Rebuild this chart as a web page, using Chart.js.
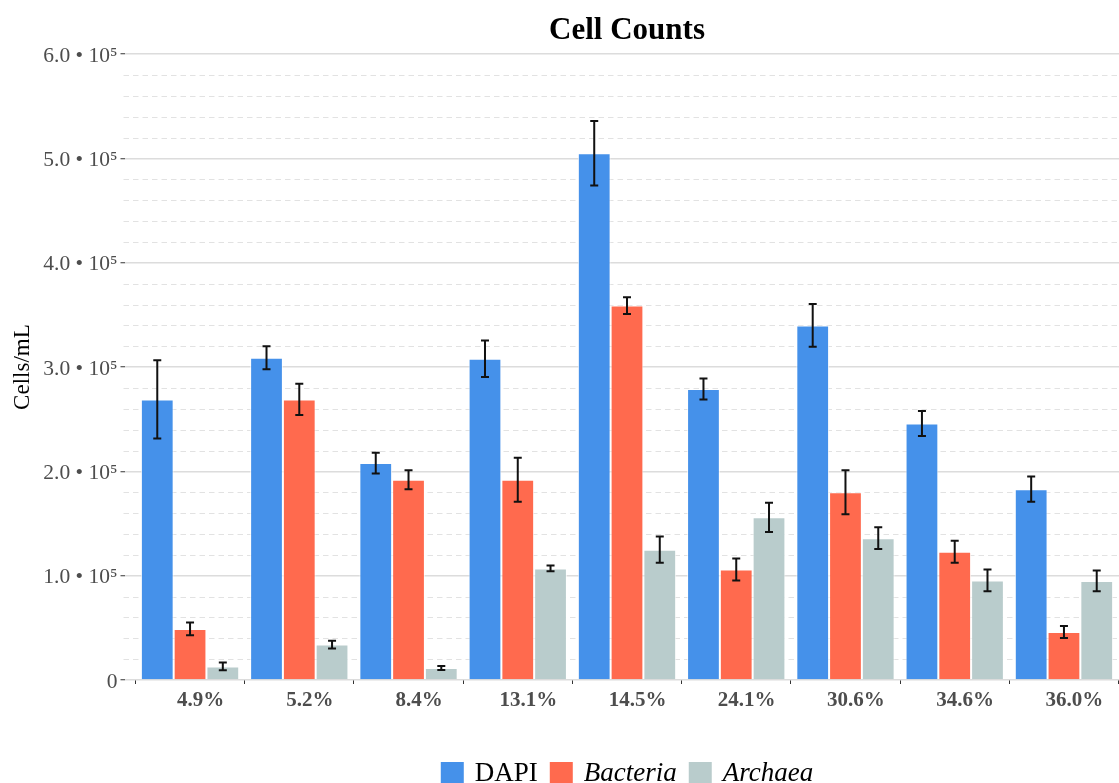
<!DOCTYPE html>
<html>
<head>
<meta charset="utf-8">
<script src="https://cdn.jsdelivr.net/npm/chart.js@4/dist/chart.umd.min.js"></script>
<style>
  html, body { margin: 0; padding: 0; background: #ffffff; overflow: hidden; }
  #wrap { width: 1119px; height: 783px; overflow: hidden; position: relative; }
  canvas { display: block; }
</style>
</head>
<body>
<div id="wrap"><canvas id="chart" width="1254" height="800"></canvas></div>
<script>
// Salinity of each sample
const salinities = ['4.9%', '5.2%', '8.4%', '13.1%', '14.5%', '24.1%', '30.6%', '34.6%', '36.0%'];

// Mean cell counts (cells/mL) and standard errors
const dapiCounts     = [269000, 309000, 208000, 308000, 505000, 279000, 340000, 246000, 183000];
const dapiErrors     = [ 37500,  11000,  10000,  17500,  31000,  10000,  20500,  12000,  12000];
const bacteriaCounts = [ 49000, 269000, 192000, 192000, 359000, 106000, 180000, 123000,  46000];
const bacteriaErrors = [  6200,  15000,   9000,  21000,   8000,  10500,  21000,  10500,   5800];
const archaeaCounts  = [ 13000,  34000,  11500, 107000, 125000, 156000, 136000,  95500,  95000];
const archaeaErrors  = [  3700,   3700,   2000,   2700,  12500,  14000,  10500,  10400,  10000];

// Y axis ticks
const yTickValues = [0, 100000, 200000, 300000, 400000, 500000, 600000];
const yMinorStep = 20000;

const SERIF = "'Liberation Serif', 'Times New Roman', Times, serif";
const COLORS = { dapi: '#4591EA', bacteria: '#FF6A4E', archaea: '#B9CCCC' };

function toPoints(values) {
  return values.map((v, i) => ({ x: i, y: v }));
}

// Dashed minor gridlines between the major ones
const minorGrid = {
  id: 'minorGrid',
  beforeDatasetsDraw(chart) {
    const ys = chart.scales.y;
    const { left, right } = chart.chartArea;
    const ctx = chart.ctx;
    ctx.save();
    ctx.strokeStyle = '#E2E2E2';
    ctx.lineWidth = 1;
    ctx.setLineDash([5.5, 4]);
    const majorStep = yTickValues[1] - yTickValues[0];
    const n = Math.round(ys.max / yMinorStep);
    for (let k = 1; k < n; k++) {
      const v = k * yMinorStep;
      if (v % majorStep === 0) continue;
      const py = Math.round(ys.getPixelForValue(v)) + 0.5;
      ctx.beginPath();
      ctx.moveTo(left - 1, py);
      ctx.lineTo(right, py);
      ctx.stroke();
    }
    ctx.restore();
  }
};

// Error bars (mean ± SE) drawn over each bar
const errorBars = {
  id: 'errorBars',
  afterDatasetsDraw(chart) {
    const ys = chart.scales.y;
    const ctx = chart.ctx;
    ctx.save();
    ctx.strokeStyle = '#111111';
    ctx.lineWidth = 2;
    chart.data.datasets.forEach((ds, di) => {
      const meta = chart.getDatasetMeta(di);
      meta.data.forEach((bar, i) => {
        const v = ds.data[i].y;
        const e = ds.errors[i];
        const yTop = ys.getPixelForValue(v + e);
        const yBot = ys.getPixelForValue(v - e);
        const cap = 4;
        ctx.beginPath();
        ctx.moveTo(bar.x, yTop);
        ctx.lineTo(bar.x, yBot);
        ctx.moveTo(bar.x - cap, yTop);
        ctx.lineTo(bar.x + cap, yTop);
        ctx.moveTo(bar.x - cap, yBot);
        ctx.lineTo(bar.x + cap, yBot);
        ctx.stroke();
      });
    });
    ctx.restore();
  }
};

// Legend with the taxon names in italics
const taxonLegend = {
  id: 'taxonLegend',
  afterDraw(chart) {
    const ctx = chart.ctx;
    const size = 27, swatch = 23, textGap = 11, itemGap = 12;
    const items = chart.data.datasets.map(ds => ({
      text: ds.label,
      color: ds.backgroundColor,
      font: (ds.italicLabel ? 'italic ' : '') + size + 'px ' + SERIF
    }));
    ctx.save();
    let total = 0;
    items.forEach((it, i) => {
      ctx.font = it.font;
      it.w = ctx.measureText(it.text).width;
      total += swatch + textGap + it.w + (i > 0 ? itemGap : 0);
    });
    let x = chart.width / 2 - total / 2;
    const top = 762, baseline = 781;
    items.forEach(it => {
      ctx.fillStyle = it.color;
      ctx.fillRect(x, top, swatch, swatch);
      x += swatch + textGap;
      ctx.font = it.font;
      ctx.fillStyle = '#000000';
      ctx.textBaseline = 'alphabetic';
      ctx.textAlign = 'left';
      ctx.fillText(it.text, x, baseline);
      x += it.w + itemGap;
    });
    ctx.restore();
  }
};

function barDataset(label, values, errors, color, italic) {
  return {
    label: label,
    data: toPoints(values),
    errors: errors,
    italicLabel: italic,
    backgroundColor: color,
    borderColor: 'rgba(255,255,255,0.75)',
    borderWidth: 1,
    categoryPercentage: 0.9,
    barPercentage: 1.0
  };
}

new Chart(document.getElementById('chart'), {
  type: 'bar',
  data: {
    datasets: [
      barDataset('DAPI', dapiCounts, dapiErrors, COLORS.dapi, false),
      barDataset('Bacteria', bacteriaCounts, bacteriaErrors, COLORS.bacteria, true),
      barDataset('Archaea', archaeaCounts, archaeaErrors, COLORS.archaea, true)
    ]
  },
  plugins: [minorGrid, errorBars, taxonLegend],
  options: {
    responsive: false,
    animation: false,
    devicePixelRatio: 1,
    layout: { padding: { left: 0, right: 0, top: 0, bottom: 87 } },
    plugins: {
      legend: { display: false },
      tooltip: { enabled: false },
      title: {
        display: true,
        text: 'Cell Counts',
        color: '#000000',
        font: { family: SERIF, size: 31, weight: 'bold', lineHeight: 1.2 },
        padding: { top: 12, bottom: 5 }
      }
    },
    scales: {
      x: {
        type: 'linear',
        min: -0.6,
        max: 8.6,
        offset: false,
        afterBuildTicks: s => { s.ticks = salinities.map((_, i) => ({ value: i })); },
        afterFit: s => { s.height = 33; },
        grid: { drawOnChartArea: false, drawTicks: true, tickLength: 4, tickColor: '#333333', tickWidth: 1 },
        border: { display: false },
        ticks: {
          autoSkip: false,
          maxRotation: 0,
          padding: 4,
          labelOffset: 10.5,
          color: '#4D4D4D',
          font: { family: SERIF, size: 21, weight: 'bold' },
          callback: v => salinities[v]
        }
      },
      y: {
        min: yTickValues[0],
        max: yTickValues[yTickValues.length - 1],
        afterBuildTicks: s => { s.ticks = yTickValues.map(v => ({ value: v })); },
        afterFit: s => { s.width = 124.5; },
        grid: { color: '#DCDCDC', lineWidth: 1.5, tickColor: '#333333', tickLength: 4, tickWidth: 1 },
        border: { display: false },
        ticks: {
          padding: 3,
          labelOffset: 2,
          color: '#4D4D4D',
          font: { family: SERIF, size: 21.5 },
          callback: v => v === 0 ? '0' : (v / 1e5).toFixed(1) + ' \u2022 10\u2075'
        },
        title: {
          display: true,
          text: 'Cells/mL',
          color: '#000000',
          font: { family: SERIF, size: 23 },
          padding: { top: 9, bottom: 0 }
        }
      },
      // empty margin on the right so the title and legend centre on the panel
      yRight: {
        type: 'linear',
        position: 'right',
        display: true,
        afterFit: s => { s.width = 124.5; },
        grid: { display: false, drawTicks: false },
        border: { display: false },
        ticks: { display: false }
      }
    }
  }
});
</script>
</body>
</html>
